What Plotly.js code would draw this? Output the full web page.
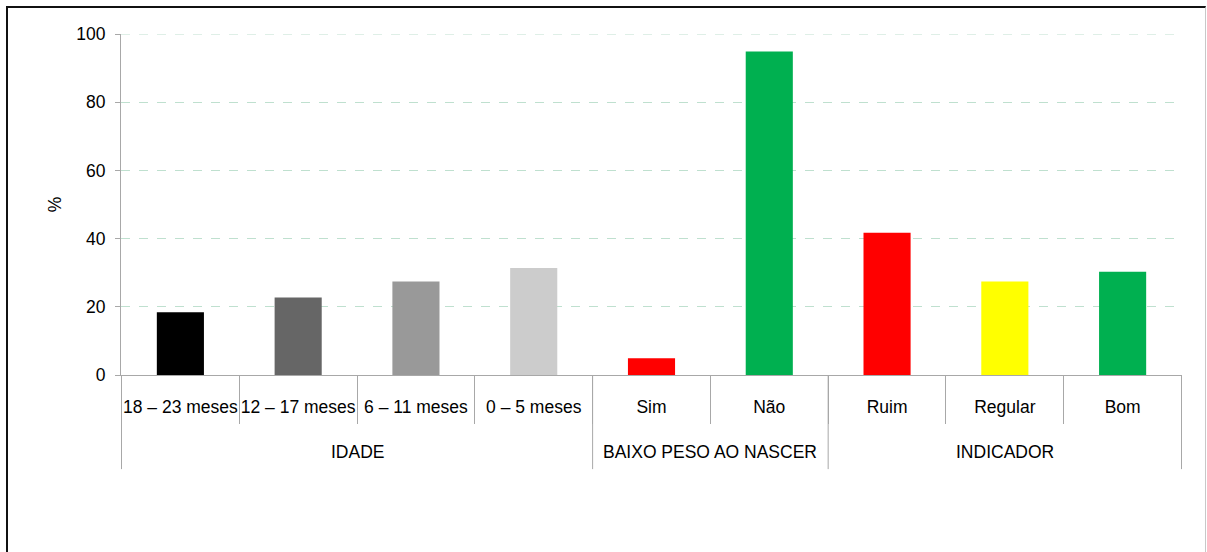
<!DOCTYPE html>
<html>
<head>
<meta charset="utf-8">
<script src="https://cdn.plot.ly/plotly-3.0.1.min.js"></script>
<style>
  html, body { margin: 0; padding: 0; background: #ffffff; }
  #wrap { position: relative; width: 1207px; height: 552px; overflow: hidden; }
  #chart { position: absolute; left: 0; top: 0; width: 1207px; height: 552px; }
  #frame {
    position: absolute; left: 6px; top: 6px; width: 1197px; height: 560px;
    border-left: 2px solid #111; border-top: 2px solid #111; border-right: 1px solid #c8c8c8;
    pointer-events: none;
  }
</style>
</head>
<body>
<div id="wrap">
  <div id="chart"></div>
  <div id="frame"></div>
</div>
<script>
// Group (outer level) and category (inner level) labels
const groups = ["IDADE", "IDADE", "IDADE", "IDADE",
                "BAIXO PESO AO NASCER", "BAIXO PESO AO NASCER",
                "INDICADOR", "INDICADOR", "INDICADOR"];
const categories = ["18 – 23 meses", "12 – 17 meses", "6 – 11 meses", "0 – 5 meses",
                    "Sim", "Não", "Ruim", "Regular", "Bom"];
// Percentages
const values = [18.4, 22.7, 27.4, 31.4, 4.9, 94.9, 41.7, 27.4, 30.3];
const barColors = ["#000000", "#666666", "#999999", "#cccccc",
                   "#ff0000", "#00b050", "#ff0000", "#ffff00", "#00b050"];
const yTicks = [0, 20, 40, 60, 80, 100];

const font = { family: "Liberation Sans, Arial, sans-serif", size: 17.5, color: "#000" };
const axisGray = "#a8a8a8";

// Collect each group's first and last category index
const groupSpans = [];
groups.forEach((g, i) => {
  const last = groupSpans[groupSpans.length - 1];
  if (last && last.name === g) last.end = i;
  else groupSpans.push({ name: g, start: i, end: i });
});

// Group labels below the category labels
const annotations = groupSpans.map(s => ({
  xref: "x", yref: "paper",
  x: (s.start + s.end) / 2, y: -0.226,
  text: s.name, showarrow: false,
  xanchor: "center", yanchor: "middle",
  font: font
}));

// Long separators at group boundaries
const boundaries = groupSpans.map(s => s.start - 0.5)
  .concat([groupSpans[groupSpans.length - 1].end + 0.5]);
const shapes = boundaries.map(b => ({
  type: "line", xref: "x", yref: "paper",
  x0: b, x1: b, y0: 0, y1: -0.276,
  line: { color: axisGray, width: 1 }
}));
// Top gridline at the range end
shapes.push({
  type: "line", xref: "paper", yref: "y",
  x0: 0, x1: 1, y0: yTicks[yTicks.length - 1], y1: yTicks[yTicks.length - 1],
  line: { color: "#bfe0cf", width: 1, dash: "dash" }
});

const trace = {
  type: "bar",
  x: categories,
  y: values,
  width: 0.4,
  marker: { color: barColors, line: { width: 0 } },
  hoverinfo: "none"
};

const layout = {
  width: 1207,
  height: 552,
  margin: { l: 121, r: 25, t: 34, b: 177 },
  paper_bgcolor: "rgba(0,0,0,0)",
  plot_bgcolor: "#ffffff",
  showlegend: false,
  font: font,
  annotations: annotations,
  shapes: shapes,
  xaxis: {
    type: "category",
    categoryorder: "array",
    categoryarray: categories,
    showline: true,
    linecolor: axisGray,
    linewidth: 1,
    ticks: "outside",
    tickson: "boundaries",
    ticklen: 48,
    tickcolor: axisGray,
    tickangle: 0,
    ticklabelstandoff: 16,
    showgrid: false,
    tickfont: font
  },
  yaxis: {
    range: [0, 100],
    tickvals: yTicks,
    ticktext: yTicks.map(String),
    ticks: "outside",
    ticklen: 5,
    tickcolor: axisGray,
    ticklabelstandoff: 6,
    showline: true,
    linecolor: axisGray,
    linewidth: 1,
    showgrid: true,
    gridcolor: "#bfe0cf",
    griddash: "dash",
    gridwidth: 1,
    zeroline: false,
    tickfont: font,
    title: { text: "%", font: font, standoff: 10 }
  }
};

Plotly.newPlot("chart", [trace], layout, { staticPlot: true });
</script>
</body>
</html>
